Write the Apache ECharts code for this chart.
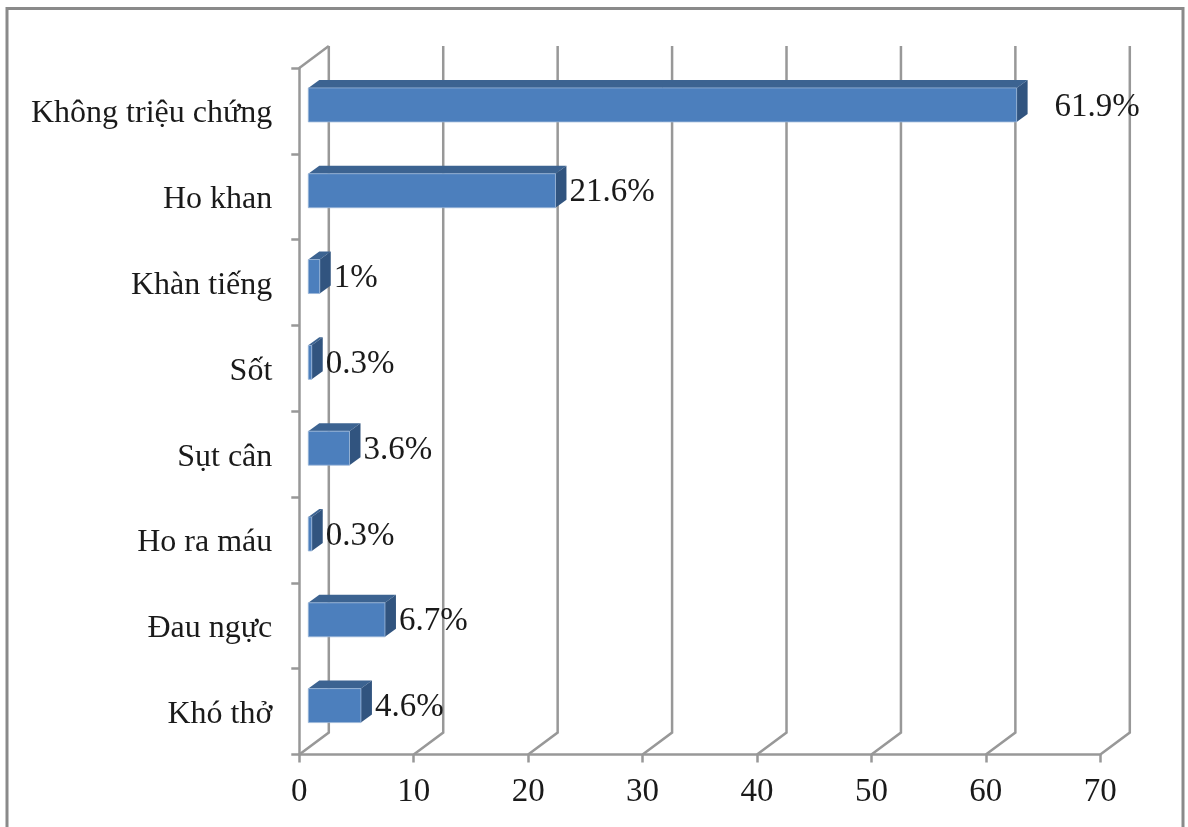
<!DOCTYPE html>
<html>
<head>
<meta charset="utf-8">
<style>html,body{margin:0;padding:0;background:#fff}#chart{width:1188px;height:827px}</style>
<script src="https://cdn.jsdelivr.net/npm/echarts@6/dist/echarts.min.js"></script>
</head>
<body>
<div id="chart"></div>
<script>
// Symptom frequency (%) shown as a pseudo-3D horizontal bar chart
const categories = ['Không triệu chứng', 'Ho khan', 'Khàn tiếng', 'Sốt', 'Sụt cân', 'Ho ra máu', 'Đau ngực', 'Khó thở'];
const percentages = [61.9, 21.6, 1, 0.3, 3.6, 0.3, 6.7, 4.6];
const xTicks = [0, 10, 20, 30, 40, 50, 60, 70];

const FONT = '"Liberation Serif", "Times New Roman", serif';
const GRID_COLOR = '#989898';
const LINE_W = 2.5;
// Depth of the wall behind the axis plane
const WALL_DX = 29.5, WALL_DY = 22;
// Bars sit partway into that depth and have their own extrusion
const BAR_DX = 9, BAR_DY = -6, BAR_H = 34, EXT_DX = 11, EXT_DY = 8;
// The top label is pushed clear of its bar
const labelNudge = { 'Không triệu chứng': 24 };

function renderWall(params, api) {
  const cs = params.coordSys;
  const x = api.coord([api.value(0), 0])[0];
  const top = cs.y, bottom = cs.y + cs.height;
  const points = [[x, bottom], [x + WALL_DX, bottom - WALL_DY], [x + WALL_DX, top - WALL_DY]];
  const stroke = { stroke: GRID_COLOR, lineWidth: LINE_W, fill: null };
  if (api.value(0) === 0) {
    // Left side wall: the slanted top edge back to the rear corner
    return {
      type: 'group',
      children: [
        { type: 'polyline', shape: { points }, style: stroke },
        { type: 'line', shape: { x1: x, y1: top, x2: x + WALL_DX, y2: top - WALL_DY }, style: stroke }
      ]
    };
  }
  return { type: 'polyline', shape: { points }, style: stroke };
}

function renderBar(params, api) {
  const zero = api.coord([0, api.value(1)]);
  const end = api.coord([api.value(0), api.value(1)]);
  const x0 = zero[0] + BAR_DX, x1 = end[0] + BAR_DX;
  const yt = zero[1] + BAR_DY - BAR_H / 2, yb = yt + BAR_H;
  const name = categories[params.dataIndex];
  return {
    type: 'group',
    children: [
      {
        type: 'polygon',
        shape: { points: [[x0, yt], [x0 + EXT_DX, yt - EXT_DY], [x1 + EXT_DX, yt - EXT_DY], [x1, yt]] },
        style: { fill: '#3c6391' }
      },
      {
        type: 'polygon',
        shape: { points: [[x1, yt], [x1 + EXT_DX, yt - EXT_DY], [x1 + EXT_DX, yb - EXT_DY], [x1, yb]] },
        style: { fill: '#31547f' }
      },
      {
        type: 'rect',
        shape: { x: x0, y: yt, width: x1 - x0, height: yb - yt },
        style: { fill: '#4c7fbd', stroke: '#9ab6d8', lineWidth: 0.8 }
      },
      {
        type: 'text',
        x: x1 + EXT_DX + 3 + (labelNudge[name] || 0),
        y: zero[1] - 4,
        style: {
          text: api.value(0) + '%',
          font: '33px ' + FONT,
          fill: '#1a1a1a',
          verticalAlign: 'middle',
          align: 'left'
        }
      }
    ]
  };
}

const chart = echarts.init(document.getElementById('chart'));
chart.setOption({
  animation: false,
  backgroundColor: '#fff',
  graphic: [{
    type: 'rect',
    silent: true,
    shape: { x: 7, y: 8.5, width: 1176, height: 830 },
    style: { fill: null, stroke: '#8a8a8a', lineWidth: 3 }
  }],
  grid: { left: 299.3, top: 68, width: 801, height: 686.5 },
  xAxis: {
    type: 'value',
    min: 0,
    max: 70,
    interval: 10,
    splitLine: { show: false },
    axisLine: { show: true, lineStyle: { color: GRID_COLOR, width: LINE_W } },
    axisTick: { show: true, length: 8, lineStyle: { color: GRID_COLOR, width: LINE_W } },
    axisLabel: { color: '#1a1a1a', fontFamily: FONT, fontSize: 33, margin: 21 }
  },
  yAxis: {
    type: 'category',
    inverse: true,
    data: categories,
    axisLine: { show: true, onZero: false, lineStyle: { color: GRID_COLOR, width: LINE_W } },
    axisTick: { show: true, length: 8, lineStyle: { color: GRID_COLOR, width: LINE_W } },
    axisLabel: {
      margin: 27,
      formatter: value => '{cat|' + value + '}',
      rich: { cat: { color: '#1a1a1a', fontFamily: FONT, fontSize: 32, padding: [6, 0, 0, 0] } }
    }
  },
  series: [
    {
      type: 'custom',
      name: 'wall',
      silent: true,
      z: 1,
      renderItem: renderWall,
      data: xTicks.map(v => [v]),
      encode: { x: 0 }
    },
    {
      type: 'custom',
      name: 'Tỷ lệ',
      silent: true,
      z: 3,
      renderItem: renderBar,
      data: percentages.map((v, i) => [v, i]),
      encode: { x: 0, y: 1 }
    }
  ]
});
</script>
</body>
</html>
